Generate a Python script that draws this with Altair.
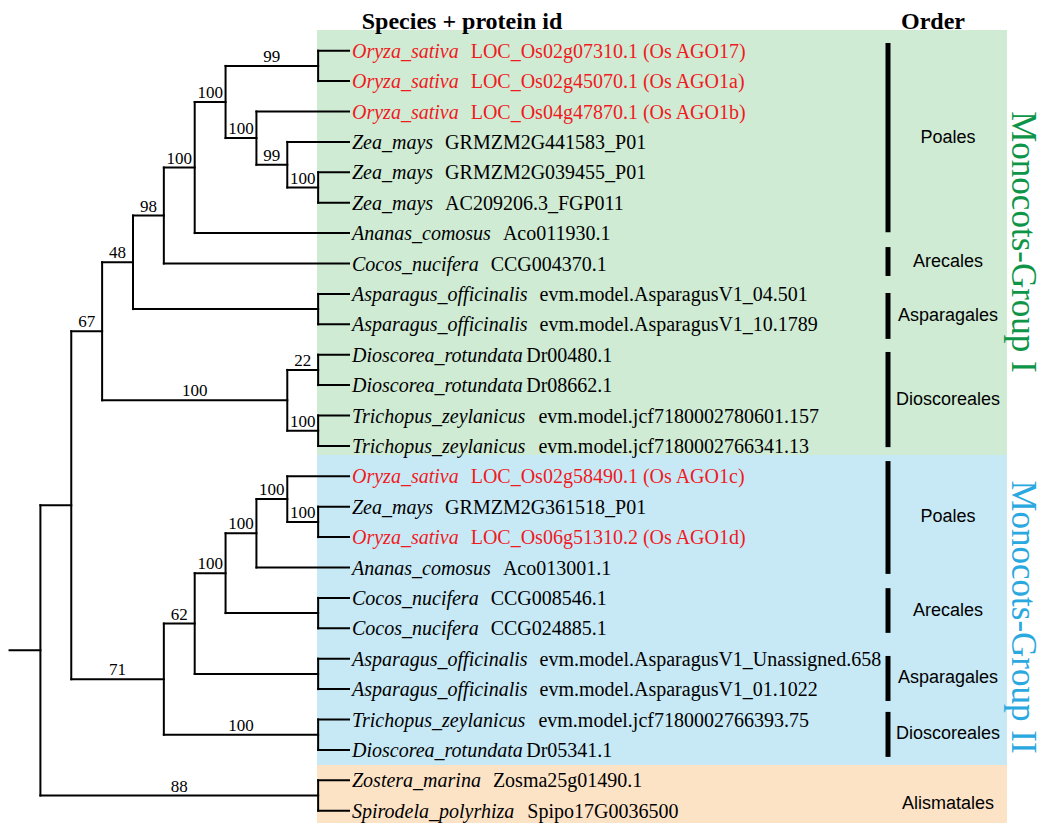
import altair as alt
import pandas as pd

# ---------------- data ----------------
species = [
    "Oryza_sativa", "Oryza_sativa", "Oryza_sativa", "Zea_mays", "Zea_mays", "Zea_mays",
    "Ananas_comosus", "Cocos_nucifera", "Asparagus_officinalis", "Asparagus_officinalis",
    "Dioscorea_rotundata", "Dioscorea_rotundata", "Trichopus_zeylanicus", "Trichopus_zeylanicus",
    "Oryza_sativa", "Zea_mays", "Oryza_sativa", "Ananas_comosus", "Cocos_nucifera", "Cocos_nucifera",
    "Asparagus_officinalis", "Asparagus_officinalis", "Trichopus_zeylanicus", "Dioscorea_rotundata",
    "Zostera_marina", "Spirodela_polyrhiza",
]
protein_ids = [
    "LOC_Os02g07310.1 (Os AGO17)", "LOC_Os02g45070.1 (Os AGO1a)", "LOC_Os04g47870.1 (Os AGO1b)",
    "GRMZM2G441583_P01", "GRMZM2G039455_P01", "AC209206.3_FGP011",
    "Aco011930.1", "CCG004370.1", "evm.model.AsparagusV1_04.501", "evm.model.AsparagusV1_10.1789",
    "Dr00480.1", "Dr08662.1", "evm.model.jcf7180002780601.157", "evm.model.jcf7180002766341.13",
    "LOC_Os02g58490.1 (Os AGO1c)", "GRMZM2G361518_P01", "LOC_Os06g51310.2 (Os AGO1d)",
    "Aco013001.1", "CCG008546.1", "CCG024885.1",
    "evm.model.AsparagusV1_Unassigned.658", "evm.model.AsparagusV1_01.1022",
    "evm.model.jcf7180002766393.75", "Dr05341.1",
    "Zosma25g01490.1", "Spipo17G0036500",
]
highlighted = [i in (0, 1, 2, 14, 16) for i in range(26)]

# tree topology: (support, [children]); integers are leaf indices
tree = ("", [
    ("", [
        ("67", [
            ("48", [
                ("98", [
                    ("100", [
                        ("100", [
                            ("99", [0, 1]),
                            ("100", [2, ("99", [3, ("100", [4, 5])])]),
                        ]),
                        6,
                    ]),
                    7,
                ]),
                ("", [8, 9]),
            ]),
            ("100", [("22", [10, 11]), ("100", [12, 13])]),
        ]),
        ("71", [
            ("62", [
                ("100", [
                    ("100", [
                        ("100", [14, ("100", [15, 16])]),
                        17,
                    ]),
                    ("", [18, 19]),
                ]),
                ("", [20, 21]),
            ]),
            ("100", [22, 23]),
        ]),
    ]),
    ("88", [24, 25]),
])

orders = ["Poales", "Arecales", "Asparagales", "Dioscoreales",
          "Poales", "Arecales", "Asparagales", "Dioscoreales", "Alismatales"]
order_start = [-0.25, 6.46, 7.97, 9.91, 13.5, 17.68, 19.91, 21.75, 24.1]
order_end = [5.97, 7.41, 9.48, 13.04, 17.21, 19.15, 21.39, 23.23, 25.45]
order_bar = [True, True, True, True, True, True, True, True, False]

band_start = [-0.68, 13.3, 23.5]
band_end = [13.3, 23.5, 25.44]
band_color = ["#CFEBD4", "#C7E9F6", "#FDE3C6"]

group_labels = ["Monocots-Group I", "Monocots-Group II"]
group_colors = ["#0E9548", "#2AA8E0"]

# ---------------- layout helpers ----------------
W, H = 1034, 815
X0, XSTEP = 40.4 - 8, 30.86   # root node x (px) and depth step
Y0, YSTEP = 50.7 - 8, 30.4    # first leaf y (px) and leaf step
TIP = 10
LEAF_FS = 20

xs = alt.Scale(domain=[(0 - X0) / XSTEP, (W - X0) / XSTEP], nice=False, zero=False)
ys = alt.Scale(domain=[(0 - Y0) / YSTEP, (H - Y0) / YSTEP], nice=False, zero=False, reverse=True)

branches, supports = [], []


def walk(node):
    if isinstance(node, int):
        return {"y": node, "h": 0, "label": ""}
    label, kids = node
    info = [walk(k) for k in kids]
    h = 1 + max(i["h"] for i in info)
    x = TIP - h
    for i in info:
        cx = TIP - i["h"]
        branches.append({"x": x, "x2": cx, "y": i["y"], "y2": i["y"]})
        if i["label"]:
            supports.append({"x": (x + cx) / 2, "y": i["y"], "t": i["label"]})
    branches.append({"x": x, "x2": x, "y": info[0]["y"], "y2": info[-1]["y"]})
    return {"y": (info[0]["y"] + info[-1]["y"]) / 2, "h": h, "label": label}


root = walk(tree)
branches.append({"x": TIP - root["h"] - 1, "x2": TIP - root["h"], "y": root["y"], "y2": root["y"]})

# Times italic advance widths (per 1000 em) to place the id after the species name
IW = dict(zip("abcdefghijklmnopqrstuvwxyz",
              [500, 500, 444, 500, 444, 278, 500, 500, 278, 278, 444, 278, 722,
               500, 500, 500, 500, 389, 389, 278, 500, 444, 667, 444, 444, 389]))
IW.update({"A": 611, "C": 667, "D": 722, "O": 722, "S": 500, "T": 556, "Z": 556, "_": 500})


def italic_px(s):
    return sum(IW[c] for c in s) * LEAF_FS / 1000


leaves = pd.DataFrame({
    "species": species,
    "pid": protein_ids,
    "y": list(range(26)),
    "x": [TIP] * 26,
    "col": ["#F01A1F" if h else "black" for h in highlighted],
})
leaves["xid"] = [TIP + (3 + italic_px(s) + (2 if s.startswith("Dioscorea") else 12)) / XSTEP
                 for s in species]

bdf = pd.DataFrame(branches)
sdf = pd.DataFrame(supports)
odf = pd.DataFrame({"order": orders, "s": order_start, "e": order_end, "bar": order_bar})
odf["mid"] = (odf["s"] + odf["e"]) / 2
band_df = pd.DataFrame({"s": band_start, "e": band_end, "c": band_color})

SERIF = "Liberation Serif"
SANS = "Liberation Sans"

X = lambda f: alt.X(f, scale=xs, axis=None)
Y = lambda f: alt.Y(f, scale=ys, axis=None)

bands = alt.Chart(band_df).mark_rect().encode(
    x=alt.value(309), x2=alt.value(999), y=Y("s:Q"), y2="e:Q",
    color=alt.Color("c:N", scale=None))

tree_lines = alt.Chart(bdf).mark_rule(color="black", strokeWidth=2, strokeCap="square").encode(
    x=X("x:Q"), x2="x2:Q", y=Y("y:Q"), y2="y2:Q")

support_text = alt.Chart(sdf).mark_text(
    font=SERIF, fontSize=17, align="center", baseline="alphabetic", dy=-4, color="black"
).encode(x=X("x:Q"), y=Y("y:Q"), text="t:N")

sp_text = alt.Chart(leaves).mark_text(
    font=SERIF, fontSize=LEAF_FS, fontStyle="italic", align="left", baseline="middle", dx=3, dy=1
).encode(x=X("x:Q"), y=Y("y:Q"), text="species:N", color=alt.Color("col:N", scale=None))

id_text = alt.Chart(leaves).mark_text(
    font=SERIF, fontSize=LEAF_FS, align="left", baseline="middle", dy=1
).encode(x=X("xid:Q"), y=Y("y:Q"), text="pid:N", color=alt.Color("col:N", scale=None))

order_bars = alt.Chart(odf).transform_filter("datum.bar").mark_rule(
    color="black", strokeWidth=5).encode(x=alt.value(880), y=Y("s:Q"), y2="e:Q")

order_text = alt.Chart(odf).mark_text(
    font=SANS, fontSize=18, align="center", baseline="middle", color="black"
).encode(x=alt.value(940), y=Y("mid:Q"), text="order:N")

head1 = alt.Chart(pd.DataFrame({"t": ["Species + protein id"]})).mark_text(
    font=SERIF, fontSize=24, fontWeight="bold", align="center", baseline="alphabetic"
).encode(x=alt.value(454), y=alt.value(21), text="t:N")

head2 = alt.Chart(pd.DataFrame({"t": ["Order"]})).mark_text(
    font=SERIF, fontSize=24, fontWeight="bold", align="center", baseline="alphabetic"
).encode(x=alt.value(925), y=alt.value(21), text="t:N")

g1 = alt.Chart(pd.DataFrame({"t": [group_labels[0]]})).mark_text(
    font=SERIF, fontSize=35, angle=90, align="center", baseline="middle", color=group_colors[0]
).encode(x=alt.value(1015), y=alt.value(234), text="t:N")

g2 = alt.Chart(pd.DataFrame({"t": [group_labels[1]]})).mark_text(
    font=SERIF, fontSize=35, angle=90, align="center", baseline="middle", color=group_colors[1]
).encode(x=alt.value(1015), y=alt.value(609), text="t:N")

chart = alt.layer(
    bands, tree_lines, support_text, sp_text, id_text, order_bars, order_text, head1, head2, g1, g2
).properties(
    width=W, height=H, autosize=alt.AutoSizeParams(type="none"), padding=0
).configure(background="white", view=alt.ViewConfig(stroke=None))

chart.save("out.html", embed_options={"renderer": "svg", "actions": False})
